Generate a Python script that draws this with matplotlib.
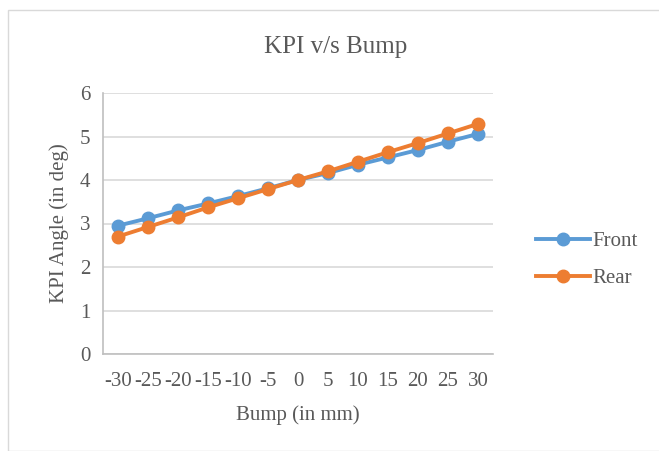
import matplotlib.pyplot as plt
from matplotlib.patches import Rectangle

# data
bump = [-30, -25, -20, -15, -10, -5, 0, 5, 10, 15, 20, 25, 30]
front = [2.95, 3.12, 3.30, 3.46, 3.63, 3.81, 4.00, 4.16, 4.35, 4.52, 4.69, 4.88, 5.06]
rear = [2.70, 2.92, 3.14, 3.37, 3.58, 3.79, 4.00, 4.20, 4.42, 4.64, 4.85, 5.07, 5.29]

plt.rcParams['font.family'] = ['Liberation Serif', 'DejaVu Serif']
txt = '#595959'
grid = '#D9D9D9'

fig = plt.figure(figsize=(6.59, 4.51), dpi=100)
ax = fig.add_axes([103/659, 1 - 354/451, 390/659, 261/451])

# light chart border like the Excel chart area
fig.patches.append(Rectangle((8/659, 0), 1, 1 - 10/451, transform=fig.transFigure,
                             fill=False, edgecolor=grid, linewidth=1))

ax.plot(bump, front, color='#5B9BD5', lw=2.8, marker='o', ms=9, label='Front', zorder=3)
ax.plot(bump, rear, color='#ED7D31', lw=2.8, marker='o', ms=9, label='Rear', zorder=4)

ax.set_xlim(-32.5, 32.5)
ax.set_ylim(0, 6)
ax.set_xticks(bump)
ax.set_xticklabels([str(b) for b in bump])
ax.set_yticks(range(7))
ax.grid(axis='y', color=grid, lw=1.2)
ax.set_axisbelow(True)

for s in ['top', 'right']:
    ax.spines[s].set_visible(False)
for s in ['left', 'bottom']:
    ax.spines[s].set_color('#BFBFBF')
    ax.spines[s].set_linewidth(1.2)
ax.tick_params(length=0, labelsize=15, colors=txt)
ax.tick_params(axis='x', pad=13)
ax.tick_params(axis='y', pad=9)

# title is centred on the whole chart area, not on the plot
fig.text(336/659, 1 - 47/451, 'KPI v/s Bump', fontsize=18, color=txt,
         ha='center', va='center')
ax.set_xlabel('Bump (in mm)', fontsize=15, color=txt, labelpad=10)
ax.set_ylabel('KPI Angle (in deg)', fontsize=15, color=txt, labelpad=8)

fig.legend(loc='center left', bbox_to_anchor=(517/659, 1 - 260/451), frameon=False,
           fontsize=15, labelcolor=txt, handlelength=2.6, labelspacing=0.85,
           handletextpad=0.1)

fig.savefig('out.png', dpi=100)
